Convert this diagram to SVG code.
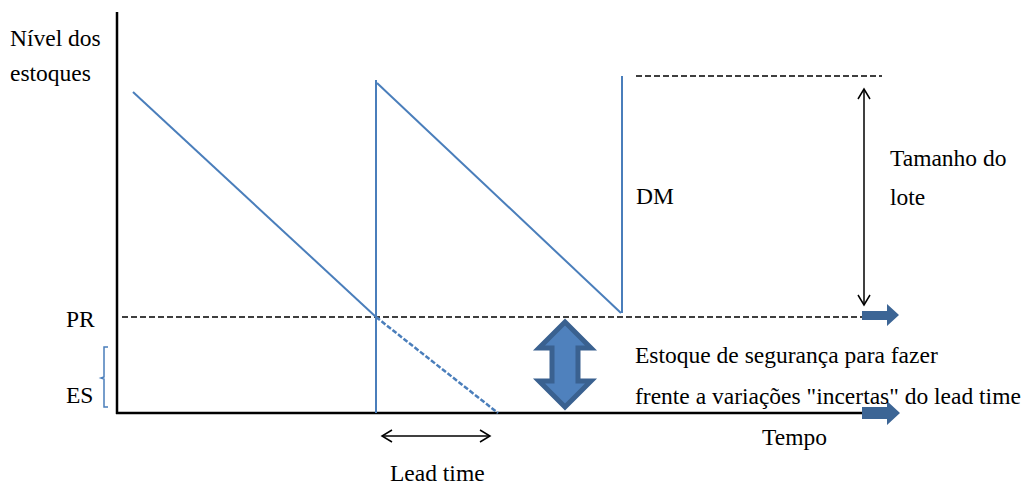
<svg xmlns="http://www.w3.org/2000/svg" width="1024" height="488" viewBox="0 0 1024 488">
<style>
.blue{stroke:#4a7ebb;stroke-width:2;fill:none}
.dash{stroke:#000;stroke-width:1.5;stroke-dasharray:6,3;fill:none}
.blk{stroke:#000;stroke-width:1.5;fill:none}
.barr{fill:#3c6595}
</style>
<defs>
<marker id="oa" markerWidth="14" markerHeight="14" refX="11" refY="7" orient="auto-start-reverse" markerUnits="userSpaceOnUse">
<path d="M1,1 L11,7 L1,13" fill="none" stroke="#000" stroke-width="1.5"/>
</marker>
</defs>
<rect width="1024" height="488" fill="#fff"/>
<g id="axes">
<line x1="117" y1="12" x2="117" y2="414" stroke="#000" stroke-width="2.5"/>
<line x1="116" y1="413" x2="862" y2="413" stroke="#000" stroke-width="2.5"/>
<path class="barr" d="M862,407 L887,407 L887,401 L900,413 L887,425 L887,419 L862,419 Z"/>
</g>
<g id="pr-line">
<line class="dash" x1="122" y1="317" x2="862" y2="317"/>
<path class="barr" d="M862,311 L887,311 L887,304 L899,315 L887,326 L887,320 L862,320 Z"/>
</g>
<g id="sawtooth">
<line class="blue" x1="133" y1="92" x2="376" y2="317"/>
<line x1="376" y1="317" x2="498" y2="413" stroke="#4a7ebb" stroke-width="2.5" stroke-dasharray="5,2"/>
<line class="blue" x1="376" y1="80" x2="376" y2="413"/>
<line class="blue" x1="377" y1="83" x2="621" y2="313"/>
<line class="blue" x1="622" y1="76" x2="622" y2="313"/>
</g>
<g font-family="'Liberation Serif', 'Times New Roman', 'DejaVu Serif', serif" font-size="23.5" fill="#000">
<g id="lot-size">
<line class="dash" x1="636" y1="76" x2="882" y2="76"/>
<line class="blk" x1="864" y1="89" x2="864" y2="305" marker-start="url(#oa)" marker-end="url(#oa)"/>
<text x="890" y="166">Tamanho do</text>
<text x="890" y="205">lote</text>
</g>
<g id="safety-stock">
<path d="M565,322 L591,348 L578,348 L578,381 L591,381 L565,407 L539,381 L552,381 L552,348 L539,348 Z" fill="#4f81bd" stroke="#3a6190" stroke-width="5" stroke-linejoin="miter"/>
<text x="635" y="363">Estoque de segurança para fazer</text>
<text x="635" y="404">frente a variações "incertas" do lead time</text>
</g>
<g id="es-bracket">
<path d="M108,347 L104,347 L104,377 L101,378 L104,379 L104,407 L108,407" fill="none" stroke="#4a7ebb" stroke-width="1.5"/>
</g>
<g id="lead-time">
<line class="blk" x1="382" y1="436" x2="490" y2="436" marker-start="url(#oa)" marker-end="url(#oa)"/>
<text x="390" y="481">Lead time</text>
</g>
<g id="labels">
<text x="10" y="46">Nível dos</text>
<text x="10" y="81">estoques</text>
<text x="66" y="327">PR</text>
<text x="66" y="403">ES</text>
<text x="636" y="204">DM</text>
<text x="762" y="445">Tempo</text>
</g>
</g>
</svg>
